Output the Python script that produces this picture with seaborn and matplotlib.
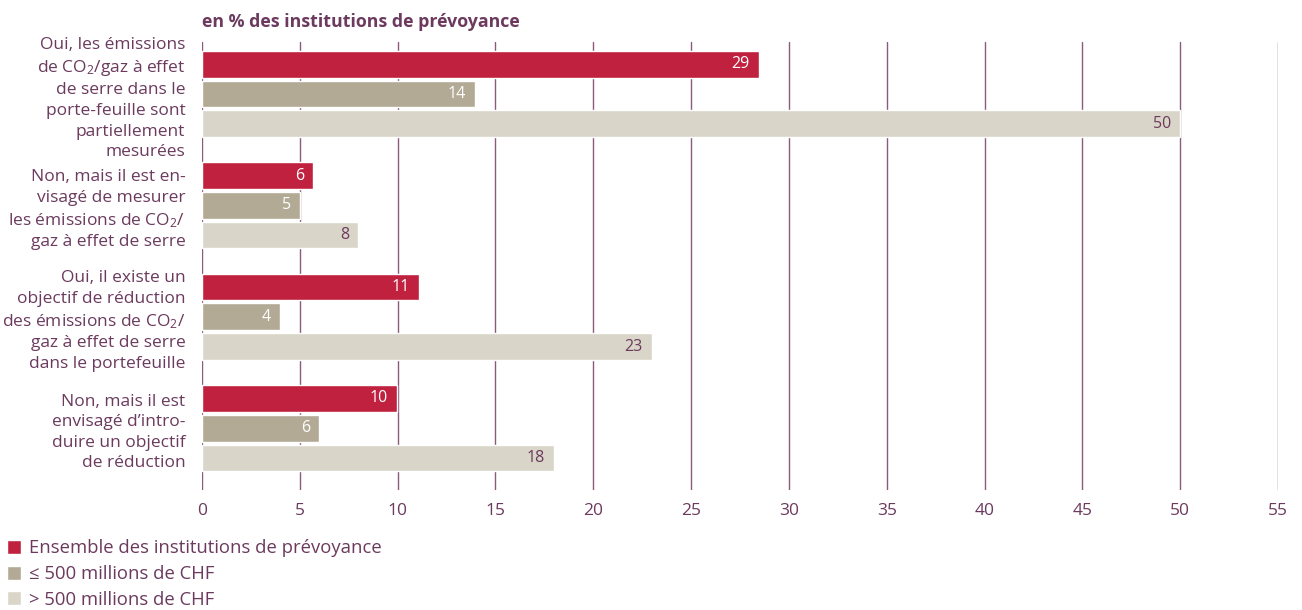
import numpy as np
import pandas as pd
import matplotlib
matplotlib.use("Agg")
import matplotlib.pyplot as plt
import seaborn as sns

# categories (y axis)
CATEGORIES = [
    "Oui, les émissions\nde CO$_2$/gaz à effet\nde serre dans le\nporte-feuille sont\npartiellement\nmesurées",
    "Non, mais il est en-\nvisagé de mesurer\nles émissions de CO$_2$/\ngaz à effet de serre",
    "Oui, il existe un\nobjectif de réduction\ndes émissions de CO$_2$/\ngaz à effet de serre\ndans le portefeuille",
    "Non, mais il est\nenvisagé d’intro-\nduire un objectif\nde réduction",
]
SERIES = [
    "Ensemble des institutions de prévoyance",
    "≤ 500 millions de CHF",
    "> 500 millions de CHF",
]
# bar lengths and the printed labels
ENSEMBLE = [28.45, 5.67, 11.08, 9.96]
SMALL = [13.94, 5.0, 3.98, 5.98]
LARGE = [50.0, 7.97, 22.98, 17.98]
ENSEMBLE_LBL = ["29", "6", "11", "10"]
SMALL_LBL = ["14", "5", "4", "6"]
LARGE_LBL = ["50", "8", "23", "18"]

COLORS = ["#c0213f", "#b3aa96", "#d9d5c8"]
LABEL_COLORS = ["white", "white", "#6b3a5e"]
TXT = "#6b3a5e"
GRID = "#8a5a7a"

sns.set_theme(style="white")
plt.rcParams["font.family"] = ["Open Sans", "DejaVu Sans"]
plt.rcParams["mathtext.fontset"] = "custom"
plt.rcParams["mathtext.rm"] = "Open Sans"
plt.rcParams["mathtext.it"] = "Open Sans"

rows = []
for vals, s in zip([ENSEMBLE, SMALL, LARGE], SERIES):
    for c, v in zip(CATEGORIES, vals):
        rows.append({"categorie": c, "serie": s, "valeur": v})
df = pd.DataFrame(rows)

fig = plt.figure(figsize=(13.02, 6.10), dpi=100)
ax = fig.add_axes([0.1551, 0.1967, 0.8265, 0.7344])

sns.barplot(data=df, x="valeur", y="categorie", hue="serie", orient="h",
            palette=COLORS, hue_order=SERIES, order=CATEGORIES,
            width=0.8, gap=0.1, saturation=1, ax=ax, legend=True)

for cont, labels, lc in zip(ax.containers, [ENSEMBLE_LBL, SMALL_LBL, LARGE_LBL], LABEL_COLORS):
    for bar, lab in zip(cont, labels):
        ax.text(bar.get_width() - 0.45, bar.get_y() + bar.get_height() / 2, lab,
                ha="right", va="center", color=lc, fontsize=11.5)

ax.set_xlim(0, 55)
ax.set_xticks(np.arange(0, 56, 5))
ax.set_ylim(3.555, -0.467)
ax.set_xlabel(""); ax.set_ylabel("")
ax.grid(axis="x", color=GRID, linewidth=1)
ax.set_axisbelow(True)
for sp in ax.spines.values():
    sp.set_visible(False)
ax.tick_params(axis="x", length=0, pad=9, labelsize=12.5, labelcolor=TXT)
ax.tick_params(axis="y", length=0, pad=12, labelsize=12.5, labelcolor=TXT)
for t in ax.get_yticklabels():
    t.set_linespacing(1.38)
    t.set_multialignment("right")

ax.set_title("en % des institutions de prévoyance", loc="left", fontsize=12.8,
             fontweight="bold", color=TXT, pad=11)

handles, labels = ax.get_legend_handles_labels()
ax.legend_.remove()
fig.legend(handles, labels, loc="upper left", bbox_to_anchor=(0.005, 0.116),
           frameon=False, fontsize=13.3, labelcolor=TXT, handlelength=0.8,
           handleheight=0.8, handletextpad=0.4, labelspacing=0.42,
           borderaxespad=0, borderpad=0)

plt.savefig("out.png", dpi=100)
